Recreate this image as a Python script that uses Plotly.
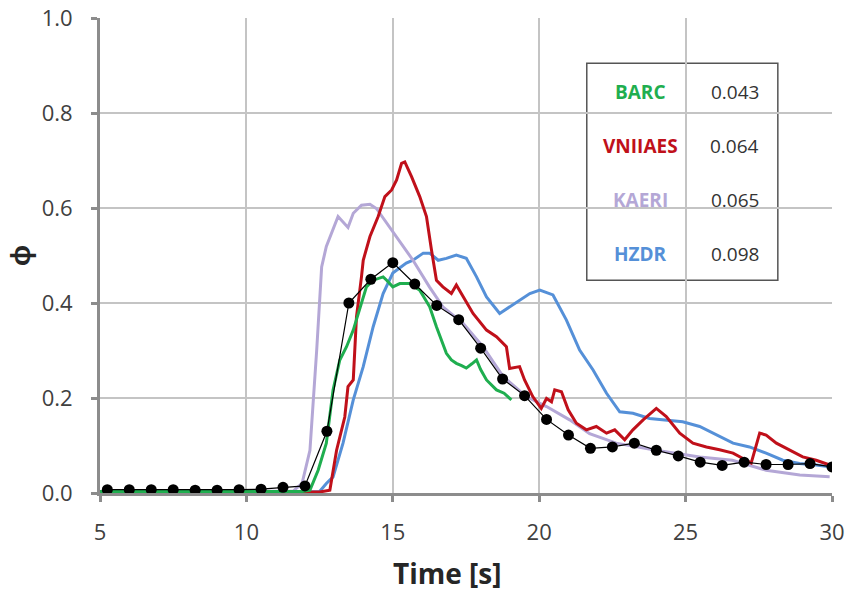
import plotly.graph_objects as go

# Experimental void fraction (markers)
exp_t = [5.25, 6.0, 6.75, 7.5, 8.25, 9.0, 9.75, 10.5, 11.25, 12.0, 12.75, 13.5,
         14.25, 15.0, 15.75, 16.5, 17.25, 18.0, 18.75, 19.5, 20.25, 21.0, 21.75,
         22.5, 23.25, 24.0, 24.75, 25.5, 26.25, 27.0, 27.75, 28.5, 29.25, 30.0]
exp_phi = [0.007, 0.007, 0.007, 0.007, 0.006, 0.006, 0.007, 0.008, 0.012, 0.015,
           0.13, 0.40, 0.45, 0.485, 0.44, 0.395, 0.365, 0.305, 0.24, 0.205, 0.155,
           0.122, 0.094, 0.097, 0.105, 0.09, 0.078, 0.065, 0.058, 0.065, 0.06,
           0.06, 0.062, 0.055]

# Simulation results
barc_t = [5.0, 11.9, 12.17, 12.45, 12.73, 12.96, 13.19, 13.42, 13.65, 13.87, 14.1,
          14.33, 14.67, 14.79, 15.0, 15.24, 15.58, 15.92, 16.26, 16.49, 16.83, 17.0,
          17.17, 17.35, 17.51, 17.7, 17.86, 18.0, 18.2, 18.54, 18.8, 19.05]
barc_phi = [0.003, 0.003, 0.006, 0.048, 0.105, 0.217, 0.28, 0.308, 0.343, 0.385,
            0.434, 0.448, 0.455, 0.448, 0.434, 0.441, 0.441, 0.427, 0.392, 0.35,
            0.294, 0.28, 0.273, 0.268, 0.263, 0.272, 0.28, 0.26, 0.238, 0.217,
            0.21, 0.196]

vniiaes_t = [5.0, 12.5, 12.85, 13.08, 13.36, 13.47, 13.65, 13.76, 13.93, 13.99,
             14.22, 14.5, 14.73, 14.96, 15.13, 15.3, 15.41, 15.64, 15.92, 16.15,
             16.32, 16.49, 16.71, 17.0, 17.17, 17.4, 17.74, 18.2, 18.54, 18.88,
             18.99, 19.33, 19.5, 19.78, 20.07, 20.25, 20.42, 20.53, 20.76, 20.99,
             21.27, 21.61, 21.95, 22.3, 22.58, 22.92, 23.2, 23.55, 24.0, 24.34,
             24.8, 25.25, 25.71, 26.16, 26.62, 27.07, 27.24, 27.53, 27.75, 28.1,
             28.55, 29.0, 29.46, 29.92]
vniiaes_phi = [0.002, 0.002, 0.006, 0.09, 0.16, 0.224, 0.238, 0.371, 0.455, 0.49,
               0.54, 0.582, 0.624, 0.638, 0.659, 0.694, 0.697, 0.666, 0.624, 0.582,
               0.512, 0.448, 0.434, 0.42, 0.438, 0.413, 0.378, 0.343, 0.329, 0.308,
               0.262, 0.266, 0.238, 0.203, 0.178, 0.199, 0.192, 0.217, 0.213, 0.175,
               0.147, 0.133, 0.14, 0.126, 0.133, 0.112, 0.133, 0.154, 0.178, 0.161,
               0.126, 0.105, 0.097, 0.091, 0.084, 0.069, 0.063, 0.126, 0.122, 0.105,
               0.091, 0.076, 0.069, 0.059]

kaeri_t = [5.0, 11.6, 11.9, 12.17, 12.4, 12.57, 12.73, 13.13, 13.47, 13.65, 13.93,
           14.22, 14.44, 15.0, 15.69, 16.25, 16.71, 17.4, 18.08, 18.77, 19.56,
           20.25, 21.04, 21.72, 22.63, 23.99, 25.48, 26.6, 27.75, 28.9, 29.92]
kaeri_phi = [0.003, 0.004, 0.02, 0.09, 0.30, 0.476, 0.519, 0.582, 0.559, 0.589,
             0.606, 0.608, 0.599, 0.55, 0.49, 0.434, 0.392, 0.357, 0.308, 0.245,
             0.203, 0.182, 0.154, 0.125, 0.105, 0.09, 0.076, 0.069, 0.048, 0.038,
             0.034]

hzdr_t = [5.0, 12.5, 12.73, 12.96, 13.3, 13.65, 13.99, 14.33, 14.67, 15.0, 15.46,
          15.69, 16.04, 16.26, 16.55, 16.83, 17.17, 17.51, 17.86, 18.2, 18.65,
          18.99, 19.33, 19.68, 20.02, 20.47, 20.93, 21.38, 21.84, 22.3, 22.75,
          23.2, 23.77, 24.34, 24.9, 25.48, 26.04, 26.62, 27.18, 27.75, 28.32,
          28.89, 29.46, 29.92]
hzdr_phi = [0.002, 0.003, 0.02, 0.034, 0.105, 0.196, 0.266, 0.35, 0.42, 0.463,
            0.484, 0.49, 0.505, 0.505, 0.49, 0.494, 0.501, 0.494, 0.455, 0.413,
            0.378, 0.392, 0.406, 0.42, 0.427, 0.417, 0.364, 0.301, 0.259, 0.21,
            0.171, 0.168, 0.157, 0.154, 0.15, 0.14, 0.122, 0.105, 0.097, 0.084,
            0.069, 0.062, 0.059, 0.055]

# Deviation table shown in the box
table_names = ["BARC", "VNIIAES", "KAERI", "HZDR"]
table_values = ["0.043", "0.064", "0.065", "0.098"]

x_ticks = [5, 10, 15, 20, 25, 30]
y_ticks = [0.0, 0.2, 0.4, 0.6, 0.8, 1.0]

colors = {
    "BARC": "#1fae4f",
    "VNIIAES": "#c0101a",
    "KAERI": "#b4a7d6",
    "HZDR": "#5590d8",
}

FONT = "Open Sans, Liberation Sans, sans-serif"

fig = go.Figure()
series = [
    ("HZDR", hzdr_t, hzdr_phi),
    ("KAERI", kaeri_t, kaeri_phi),
    ("VNIIAES", vniiaes_t, vniiaes_phi),
    ("BARC", barc_t, barc_phi),
]
for name, t, phi in series:
    fig.add_trace(go.Scatter(
        x=t, y=phi, mode="lines", name=name,
        line=dict(color=colors[name], width=3),
        showlegend=False,
    ))

fig.add_trace(go.Scatter(
    x=exp_t, y=exp_phi, mode="lines+markers", name="Experiment",
    line=dict(color="black", width=1.2),
    marker=dict(color="black", size=11),
    showlegend=False,
))

# Boxed table of model names and values
row_y = [0.844, 0.731, 0.617, 0.503]
for name, val, yy in zip(table_names, table_values, row_y):
    fig.add_annotation(
        x=0.739, y=yy, xref="paper", yref="paper", text=f"<b>{name}</b>",
        showarrow=False, xanchor="center", yanchor="middle",
        font=dict(family=FONT, size=19, color=colors[name]),
    )
    fig.add_annotation(
        x=0.867, y=yy, xref="paper", yref="paper", text=val,
        showarrow=False, xanchor="center", yanchor="middle",
        font=dict(family=FONT, size=19, color="#333333"),
    )
fig.add_shape(
    type="rect", xref="paper", yref="paper",
    x0=0.665, x1=0.926, y0=0.448, y1=0.905,
    line=dict(color="#555555", width=1.5), fillcolor="white", layer="below",
)

# x-axis title, set slightly left of centre
fig.add_annotation(
    x=0.475, y=0, xref="paper", yref="paper", yshift=-80,
    text="<b>Time [s]</b>", showarrow=False,
    xanchor="center", yanchor="middle",
    font=dict(family=FONT, size=28, color="#262626"),
)

fig.update_layout(
    width=856, height=599,
    margin=dict(l=100, r=24, t=18, b=106),
    paper_bgcolor="white", plot_bgcolor="white",
    font=dict(family=FONT, color="#404040"),
)
fig.update_xaxes(
    range=[5, 30], tickvals=x_ticks, ticktext=[str(v) for v in x_ticks],
    showgrid=True, gridcolor="#c4c4c4", gridwidth=1.5,
    showline=True, linecolor="#8c8c8c", linewidth=3,
    ticks="outside", ticklen=6, tickwidth=3, tickcolor="#8c8c8c",
    tickfont=dict(size=22, color="#404040"), zeroline=False,
    ticklabelstandoff=12, automargin=False,
)
fig.update_yaxes(
    range=[0, 1.0], tickvals=y_ticks, ticktext=[f"{v:.1f}" for v in y_ticks],
    showgrid=True, gridcolor="#c4c4c4", gridwidth=1.5,
    showline=True, linecolor="#8c8c8c", linewidth=3,
    ticks="outside", ticklen=6, tickwidth=3, tickcolor="#8c8c8c",
    tickfont=dict(size=22, color="#404040"), zeroline=False,
    ticklabelstandoff=14, automargin=False,
    title=dict(text="<b>ϕ</b>", font=dict(size=28, color="#262626"), standoff=16),
)

fig.write_html("out.html")
